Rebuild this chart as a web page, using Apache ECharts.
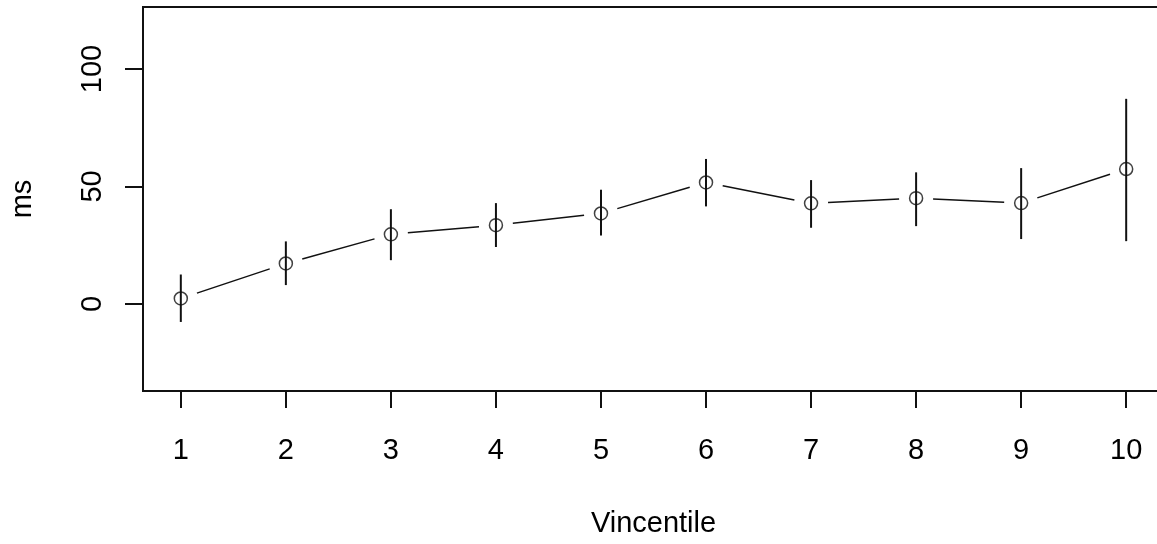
<!DOCTYPE html>
<html>
<head>
<meta charset="utf-8">
<script src="https://cdn.jsdelivr.net/npm/echarts@6/dist/echarts.min.js"></script>
<style>
  html, body { margin: 0; padding: 0; background: #fff; }
  #chart { width: 1157px; height: 544px; }
</style>
</head>
<body>
<div id="chart"></div>
<script>
// Vincentile means (ms) with error bars
const vincentile = [1, 2, 3, 4, 5, 6, 7, 8, 9, 10];
const meanMs  = [2.3, 17.2, 29.6, 33.5, 38.5, 51.7, 42.8, 45.0, 42.9, 57.4];
const lowerMs = [-7.7, 8.0, 18.6, 24.2, 29.1, 41.5, 32.4, 33.1, 27.6, 26.7];
const upperMs = [12.5, 26.6, 40.3, 42.9, 48.6, 61.7, 52.7, 56.0, 57.8, 87.3];
const xTicks = [1, 2, 3, 4, 5, 6, 7, 8, 9, 10];
const yTicks = [0, 50, 100];

const FONT = "'Liberation Sans', Arial, sans-serif";
const INK = '#000';
const FS = 29;
const GAP = 17; // blank space left around each point on the connecting line

const points = vincentile.map((v, i) => [v, meanMs[i]]);
const bars = vincentile.map((v, i) => [v, lowerMs[i], upperMs[i]]);
const segments = vincentile.slice(0, -1).map((v, i) => [v, meanMs[i], vincentile[i + 1], meanMs[i + 1]]);

const chart = echarts.init(document.getElementById('chart'), null, { renderer: 'canvas' });

chart.setOption({
  animation: false,
  backgroundColor: '#fff',
  grid: {
    // plot region runs a little past the right edge of the canvas
    left: 143, top: 7, right: -7, bottom: 153,
    outerBoundsMode: 'none',
    containLabel: false,
    show: true, borderColor: '#111', borderWidth: 2, backgroundColor: 'transparent'
  },
  xAxis: {
    type: 'value', min: 0.64, max: 10.36,
    name: 'Vincentile', nameLocation: 'middle', nameGap: 118,
    nameTextStyle: { fontFamily: FONT, fontSize: FS, color: INK },
    axisLine: { show: false, onZero: false },
    splitLine: { show: false },
    axisTick: { show: true, length: 17, customValues: xTicks, lineStyle: { color: '#111', width: 2 } },
    axisLabel: { customValues: xTicks, margin: 45, fontFamily: FONT, fontSize: FS, color: INK }
  },
  yAxis: {
    type: 'value', min: -37.1, max: 126.4,
    name: 'ms', nameLocation: 'middle', nameGap: 106, nameRotate: 90,
    nameTextStyle: { fontFamily: FONT, fontSize: FS, color: INK },
    axisLine: { show: false, onZero: false },
    splitLine: { show: false },
    axisTick: { show: true, length: 18, customValues: yTicks, lineStyle: { color: '#111', width: 2 } },
    axisLabel: { customValues: yTicks, rotate: 90, margin: 36, fontFamily: FONT, fontSize: FS, color: INK }
  },
  series: [
    {
      // vertical error bars
      type: 'custom',
      data: bars,
      renderItem: function (params, api) {
        const lo = api.coord([api.value(0), api.value(1)]);
        const hi = api.coord([api.value(0), api.value(2)]);
        return {
          type: 'line',
          shape: { x1: lo[0], y1: lo[1], x2: hi[0], y2: hi[1] },
          style: { stroke: '#111', lineWidth: 2 }
        };
      },
      z: 2
    },
    {
      // connecting line, broken around each point
      type: 'custom',
      data: segments,
      renderItem: function (params, api) {
        const a = api.coord([api.value(0), api.value(1)]);
        const b = api.coord([api.value(2), api.value(3)]);
        const dx = b[0] - a[0], dy = b[1] - a[1];
        const len = Math.sqrt(dx * dx + dy * dy);
        const ux = dx / len, uy = dy / len;
        return {
          type: 'line',
          shape: {
            x1: a[0] + ux * GAP, y1: a[1] + uy * GAP,
            x2: b[0] - ux * GAP, y2: b[1] - uy * GAP
          },
          style: { stroke: '#111', lineWidth: 1.5 }
        };
      },
      z: 2
    },
    {
      type: 'scatter',
      data: points,
      symbol: 'circle',
      symbolSize: 13,
      itemStyle: { color: 'rgba(0,0,0,0)', borderColor: '#111', borderWidth: 1.5 },
      z: 3
    }
  ]
});
</script>
</body>
</html>
